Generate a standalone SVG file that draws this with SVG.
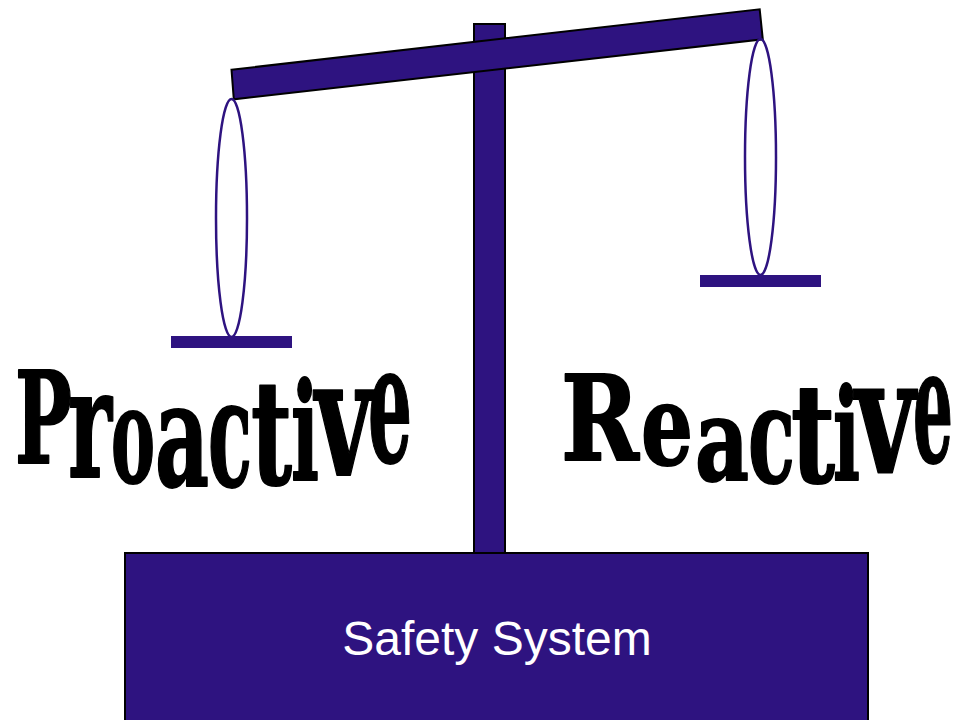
<svg xmlns="http://www.w3.org/2000/svg" width="959" height="720" viewBox="0 0 959 720">
<style>
.pur{fill:#2e1380}
.frame{stroke:#000;stroke-width:2}
.str{fill:none;stroke:#2e1380;stroke-width:2.5}
.word{font-family:"DejaVu Serif","Liberation Serif",serif;font-weight:bold;fill:#000;stroke:#000;stroke-width:2;stroke-linejoin:round}
.lbl{font-family:"Liberation Sans",Arial,sans-serif;font-size:48px;fill:#fff;text-anchor:middle}
</style>
<rect width="959" height="720" fill="#fff"/>
<g id="post"><rect class="pur frame" x="474" y="24" width="31" height="530"/></g>
<g id="beam"><polygon class="pur frame" points="231.5,69.7 759.7,9.3 762.8,39.3 233.8,99.3"/></g>
<g id="connectors">
<ellipse class="str" cx="231.5" cy="218" rx="15.5" ry="119"/>
<ellipse class="str" cx="760.5" cy="157" rx="15.5" ry="118"/>
</g>
<g id="left-pan"><rect class="pur" x="171" y="336" width="121" height="12"/></g>
<g id="right-pan"><rect class="pur" x="700" y="275" width="121" height="12"/></g>
<g id="base">
<rect class="pur frame" x="125" y="553" width="743" height="172"/>
<text class="lbl" x="497" y="655">Safety System</text>
</g>
<g id="label-proactive">
<text class="word"><tspan x="15" y="463" font-size="128" textLength="57" lengthAdjust="spacingAndGlyphs">P</tspan><tspan x="68" y="477" font-size="152" textLength="44" lengthAdjust="spacingAndGlyphs">r</tspan><tspan x="111" y="482" font-size="133" textLength="44" lengthAdjust="spacingAndGlyphs">o</tspan><tspan x="155" y="486" font-size="145" textLength="54" lengthAdjust="spacingAndGlyphs">a</tspan><tspan x="208" y="486" font-size="149" textLength="44" lengthAdjust="spacingAndGlyphs">c</tspan><tspan x="251" y="484" font-size="144" textLength="41" lengthAdjust="spacingAndGlyphs">t</tspan><tspan x="291" y="480" font-size="135" textLength="28" lengthAdjust="spacingAndGlyphs">i</tspan><tspan x="315" y="475" font-size="163" textLength="57" lengthAdjust="spacingAndGlyphs">v</tspan><tspan x="368" y="462" font-size="164" textLength="44" lengthAdjust="spacingAndGlyphs">e</tspan></text>
</g>
<g id="label-reactive">
<text class="word"><tspan x="561" y="460" font-size="118" textLength="78" lengthAdjust="spacingAndGlyphs">R</tspan><tspan x="641" y="464" font-size="112" textLength="52" lengthAdjust="spacingAndGlyphs">e</tspan><tspan x="695" y="480" font-size="115" textLength="54" lengthAdjust="spacingAndGlyphs">a</tspan><tspan x="748" y="482" font-size="133" textLength="47" lengthAdjust="spacingAndGlyphs">c</tspan><tspan x="791" y="482" font-size="137" textLength="44" lengthAdjust="spacingAndGlyphs">t</tspan><tspan x="833" y="480" font-size="128" textLength="27" lengthAdjust="spacingAndGlyphs">i</tspan><tspan x="855" y="472" font-size="160" textLength="60" lengthAdjust="spacingAndGlyphs">v</tspan><tspan x="913" y="462" font-size="160" textLength="40" lengthAdjust="spacingAndGlyphs">e</tspan></text>
</g>
</svg>
